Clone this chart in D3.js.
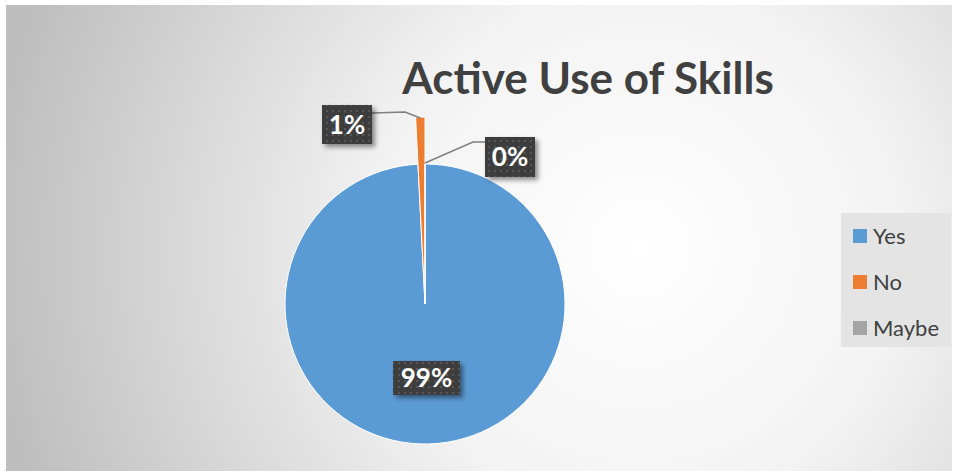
<!doctype html>
<html lang="en">
<head>
<meta charset="utf-8">
<script src="https://d3js.org/d3.v7.min.js"></script>
<style>
    body { margin:0; background:#fff; }
    text { font-family: Lato, "Open Sans", sans-serif; }
</style>
<title>Active Use of Skills</title>
</head>
<body>
<script>
// data
var categories = ["Yes", "No", "Maybe"];
var values = [99.2, 0.8, 0.0];
var labels = ["99%", "1%", "0%"];
var colors = ["#5b9bd5", "#ed7d31", "#a5a5a5"];

var W = 957, H = 472;
var svg = d3.select("body").append("svg")
    .attr("width", W).attr("height", H);

var defs = svg.append("defs");
var grad = defs.append("radialGradient").attr("id", "bg")
    .attr("gradientUnits", "userSpaceOnUse")
    .attr("cx", 640).attr("cy", 250).attr("r", 650);
grad.append("stop").attr("offset", "0").attr("stop-color", "#ffffff");
grad.append("stop").attr("offset", "0.4").attr("stop-color", "#f3f3f3");
grad.append("stop").attr("offset", "1").attr("stop-color", "#bebebe");

var pat = defs.append("pattern").attr("id", "dots")
    .attr("patternUnits", "userSpaceOnUse").attr("width", 6).attr("height", 6);
pat.append("rect").attr("width", 6).attr("height", 6).attr("fill", "#3d3d3d");
pat.append("rect").attr("x", 2).attr("y", 2).attr("width", 2).attr("height", 2).attr("fill", "#575757");

var sh = defs.append("filter").attr("id", "shadow")
    .attr("x", "-20%").attr("y", "-20%").attr("width", "150%").attr("height", "160%");
sh.append("feDropShadow").attr("dx", 3).attr("dy", 3).attr("stdDeviation", 2.5)
    .attr("flood-color", "#000").attr("flood-opacity", 0.45);

// chart area
svg.append("rect").attr("x", 6).attr("y", 5).attr("width", 946).attr("height", 466)
    .attr("fill", "url(#bg)");

// title
svg.append("text").attr("x", 588).attr("y", 94)
    .attr("text-anchor", "middle")
    .attr("font-size", 44).attr("font-weight", "bold").attr("fill", "#404040")
    .text("Active Use of Skills");

// pie, starting at 12 o'clock and running clockwise
var cx = 425, cy = 304, r = 140;
var pie = d3.pie().sort(null).value(function(d) { return d; });
var arcs = pie(values);
var g = svg.append("g").attr("transform", "translate(" + cx + "," + cy + ")");

var arcYes = d3.arc().innerRadius(0).outerRadius(r);
var arcNo = d3.arc().innerRadius(0).outerRadius(187);

g.selectAll("path").data(arcs).enter().append("path")
    .attr("d", function(d, i) { return i == 1 ? arcNo(d) : arcYes(d); })
    .attr("fill", function(d, i) { return colors[i]; })
    .attr("stroke", "#fff").attr("stroke-width", 1);

// leader lines
function pt(a, rad) { return [cx + rad * Math.sin(a), cy - rad * Math.cos(a)]; }
var noMid = (arcs[1].startAngle + arcs[1].endAngle) / 2;
var pNo = pt(noMid, 186);
var pMaybe = pt(arcs[2].startAngle, r + 1);
var line = d3.line();
svg.append("path").attr("d", line([[372, 113], [405, 112], pNo]))
    .attr("fill", "none").attr("stroke", "#7f7f7f").attr("stroke-width", 1.5);
svg.append("path").attr("d", line([pMaybe, [473, 142], [486, 142]]))
    .attr("fill", "none").attr("stroke", "#7f7f7f").attr("stroke-width", 1.5);

// data labels
var boxes = [
    {x: 393, y: 361, w: 67, h: 34},
    {x: 322, y: 105, w: 50, h: 39},
    {x: 485, y: 137, w: 50, h: 40}
];
boxes.forEach(function(b, i) {
    svg.append("rect").attr("x", b.x).attr("y", b.y).attr("width", b.w).attr("height", b.h)
        .attr("fill", "url(#dots)").attr("filter", "url(#shadow)");
    svg.append("text").attr("x", b.x + b.w / 2).attr("y", b.y + b.h / 2 + 9)
        .attr("text-anchor", "middle").attr("font-size", 26).attr("font-weight", "bold")
        .attr("fill", "#fff").text(labels[i]);
});

// legend
var lg = svg.append("g");
lg.append("rect").attr("x", 841).attr("y", 213).attr("width", 110).attr("height", 134)
    .attr("fill", "#e4e4e4");
var rows = lg.selectAll("g.item").data(categories).enter().append("g")
    .attr("transform", function(d, i) { return "translate(853," + (229 + i * 46) + ")"; });
rows.append("rect").attr("width", 14).attr("height", 14)
    .attr("fill", function(d, i) { return colors[i]; });
rows.append("text").attr("x", 20).attr("y", 15)
    .attr("font-size", 22).attr("fill", "#404040")
    .text(function(d) { return d; });
</script>
</body>
</html>
